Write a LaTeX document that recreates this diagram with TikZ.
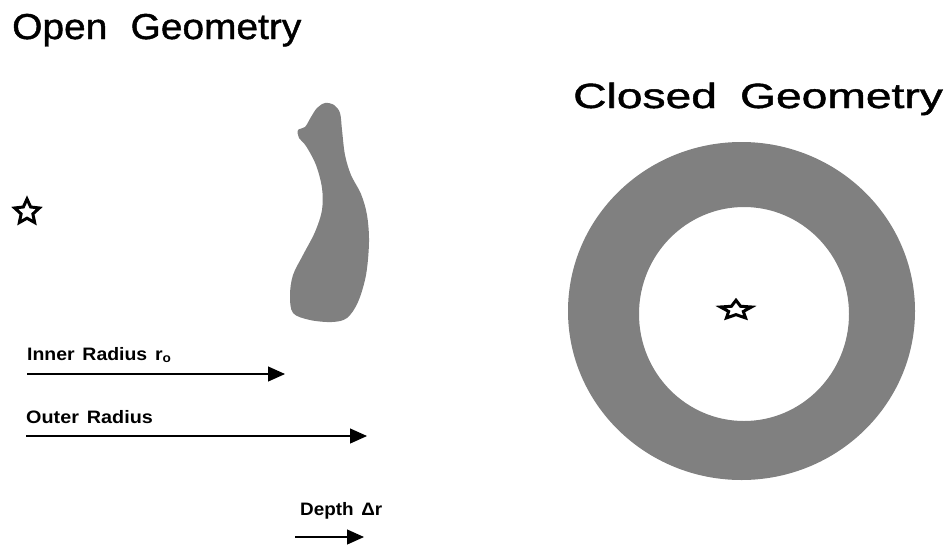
\documentclass[tikz,border=0pt]{standalone}
\usepackage{fontspec}
\setmainfont{Liberation Sans}
\newfontfamily\heavyface[FakeBold=1.2]{Liberation Sans}
\usetikzlibrary{arrows.meta,shapes.geometric}
\definecolor{bodygray}{RGB}{128,128,128}
\tikzset{
  title/.style={anchor=base west,inner sep=0pt,font=\heavyface\fontsize{36}{40}\selectfont},
  label/.style={anchor=base west,inner sep=0pt,font=\bfseries\fontsize{18}{20}\selectfont},
  radius arrow/.style={line width=1.1pt,-{Triangle[length=17pt,width=15pt]}},
  source/.style={star,star points=5,star point ratio=2.1,draw=black,fill=white,
                 line width=3pt,inner sep=0pt,minimum size=26pt},
}
\begin{document}
\begin{tikzpicture}[x=1pt,y=-1pt]
\useasboundingbox (0,0) rectangle (948,547);

% titles
\node[title] (opent) at (12,39) {\scalebox{1.08}[1]{Open\hspace{0.6em}Geometry}};
\node[title,font=\heavyface\fontsize{35}{40}\selectfont] (closedt) at (573,108)
  {\scalebox{1.32}[1]{Closed\hspace{0.5em}Geometry}};

% open geometry: irregular body
\fill[bodygray] plot[smooth cycle,tension=0.55] coordinates {
  (325,103) (334,105) (340,113) (342,130) (345,155) (351,175) (361,194)
  (367,215) (369,242) (366,275) (358,302) (347,318) (332,322) (310,320)
  (293,313) (290,295) (293,275) (303,255) (315,232) (322,210) (322,188)
  (316,165) (306,146) (299,138) (298,130) (305,127) (311,117) (317,108)};

% closed geometry: annulus
\fill[bodygray,even odd rule] (741.5,311) ellipse [x radius=173.5,y radius=169]
  (744,314) ellipse [x radius=105,y radius=107];

% point sources
\node[source] (srcL) at (27,212) {};
\node[source,xscale=1.25,yscale=0.75,transform shape] (srcR) at (736,310) {};

% radius arrows
\node[label] (innerl) at (27,360) {\scalebox{1.08}[1]{Inner\hspace{0.4em}Radius\hspace{0.4em}r\textsubscript{o}}};
\coordinate (innerA) at (27,374);
\coordinate (innerB) at (285,374);
\draw[radius arrow] (innerA) -- (innerB);

\node[label] (outerl) at (26,423) {\scalebox{1.1}[1]{Outer\hspace{0.4em}Radius}};
\coordinate (outerA) at (26,436);
\coordinate (outerB) at (367,436);
\draw[radius arrow] (outerA) -- (outerB);

\node[label] (depthl) at (300,515) {\scalebox{1.05}[1]{Depth\hspace{0.4em}Δr}};
\coordinate (depthA) at (295,537);
\coordinate (depthB) at (364,537);
\draw[radius arrow] (depthA) -- (depthB);
\end{tikzpicture}
\end{document}
